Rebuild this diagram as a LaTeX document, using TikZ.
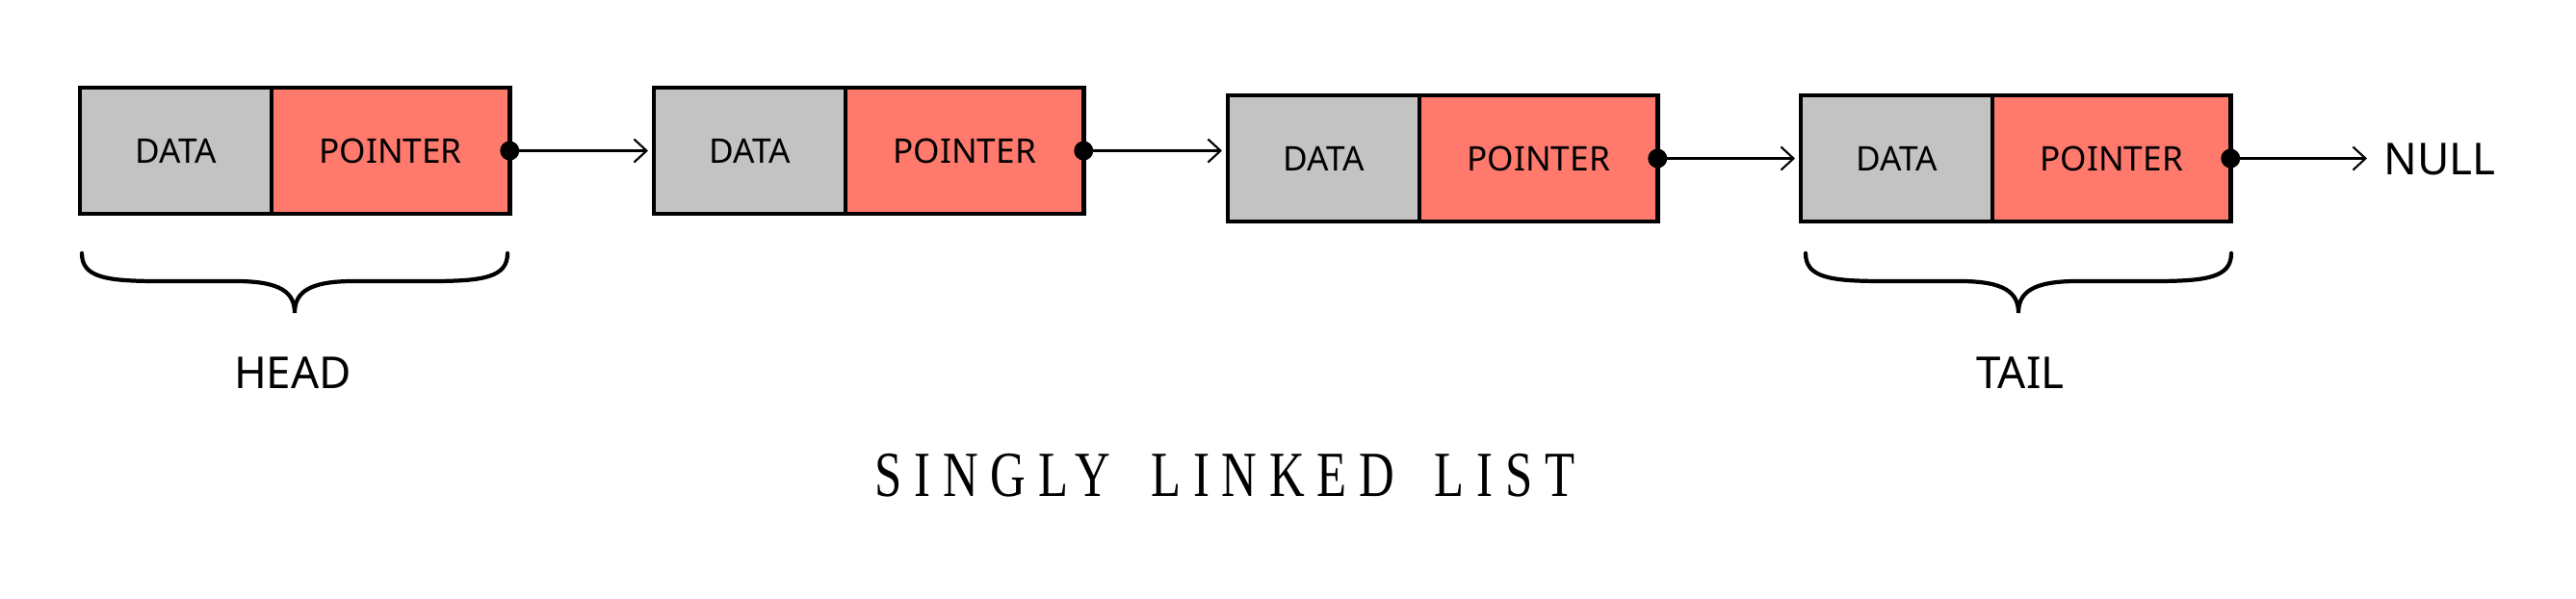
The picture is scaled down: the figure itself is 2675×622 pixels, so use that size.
\documentclass[tikz,border=0pt]{standalone}
\usepackage{fontspec}
\setmainfont{Noto Sans}
\newfontfamily\titlefont[FakeStretch=0.76,LetterSpace=19]{Liberation Serif}
\usetikzlibrary{arrows.meta}
\definecolor{cellgray}{RGB}{195,195,195}
\definecolor{cellred}{RGB}{255,121,108}
\begin{document}
\begin{tikzpicture}[x=0.01cm,y=-0.01cm,
 cellbox/.style={draw, line width=1.3pt, minimum height=1.31cm, inner sep=0pt, outer sep=0pt, font=\fontsize{10}{12}\selectfont},
 datacell/.style={cellbox, fill=cellgray, minimum width=1.99cm},
 ptrcell/.style={cellbox, fill=cellred, minimum width=2.47cm},
 pdot/.style={circle, fill=black, minimum size=0.2cm, inner sep=0pt},
 linkarrow/.style={line width=0.6pt, -{Straight Barb[length=0.13cm,width=0.24cm,line width=0.6pt]}, shorten >=0.06cm},
 bracepath/.style={line width=1.2pt, line cap=round},
 captext/.style={font=\fontsize{13}{15}\selectfont, inner sep=0pt}
]
\useasboundingbox (0,0) rectangle (2675,622);
% nodes
\node[datacell, anchor=north west] (d1) at (83,91) {DATA};
\node[ptrcell, anchor=west] (p1) at (d1.east) {POINTER};
\node[datacell, anchor=north west] (d2) at (679,91) {DATA};
\node[ptrcell, anchor=west] (p2) at (d2.east) {POINTER};
\node[datacell, anchor=north west] (d3) at (1275,99) {DATA};
\node[ptrcell, anchor=west] (p3) at (d3.east) {POINTER};
\node[datacell, anchor=north west] (d4) at (1870,99) {DATA};
\node[ptrcell, anchor=west] (p4) at (d4.east) {POINTER};
\node[pdot] (o1) at (p1.east) {};
\node[pdot] (o2) at (p2.east) {};
\node[pdot] (o3) at (p3.east) {};
\node[pdot] (o4) at (p4.east) {};
\node[font=\fontsize{13}{15}\selectfont, inner sep=0pt, anchor=west] (null) at (2475,165) {NULL};
% links
\draw[linkarrow] (o1.center) -- (d2.west);
\draw[linkarrow] (o2.center) -- (o2 -| d3.west);
\draw[linkarrow] (o3.center) -- (d4.west);
\draw[linkarrow, shorten >=0.17cm] (o4.center) -- (o4 -| null.west);
% braces
\draw[bracepath] (85,263) .. controls (85,288) and (110,292) .. (165,292) -- (245,292)
  .. controls (292,292) and (306,304) .. (306,325)
  .. controls (306,304) and (320,292) .. (367,292) -- (447,292)
  .. controls (502,292) and (527,288) .. (527,263);
\draw[bracepath] (1875,263) .. controls (1875,288) and (1900,292) .. (1955,292) -- (2035,292)
  .. controls (2082,292) and (2096,304) .. (2096,325)
  .. controls (2096,304) and (2110,292) .. (2157,292) -- (2237,292)
  .. controls (2292,292) and (2317,288) .. (2317,263);
\node[captext] (head) at (304,387) {HEAD};
\node[captext] (tail) at (2098,387) {TAIL};
\node[inner sep=0pt] (title) at (1272,494) {\titlefont\fontsize{19}{22}\selectfont SINGLY\hspace{0.42cm}LINKED\hspace{0.42cm}LIST};
\end{tikzpicture}
\end{document}
